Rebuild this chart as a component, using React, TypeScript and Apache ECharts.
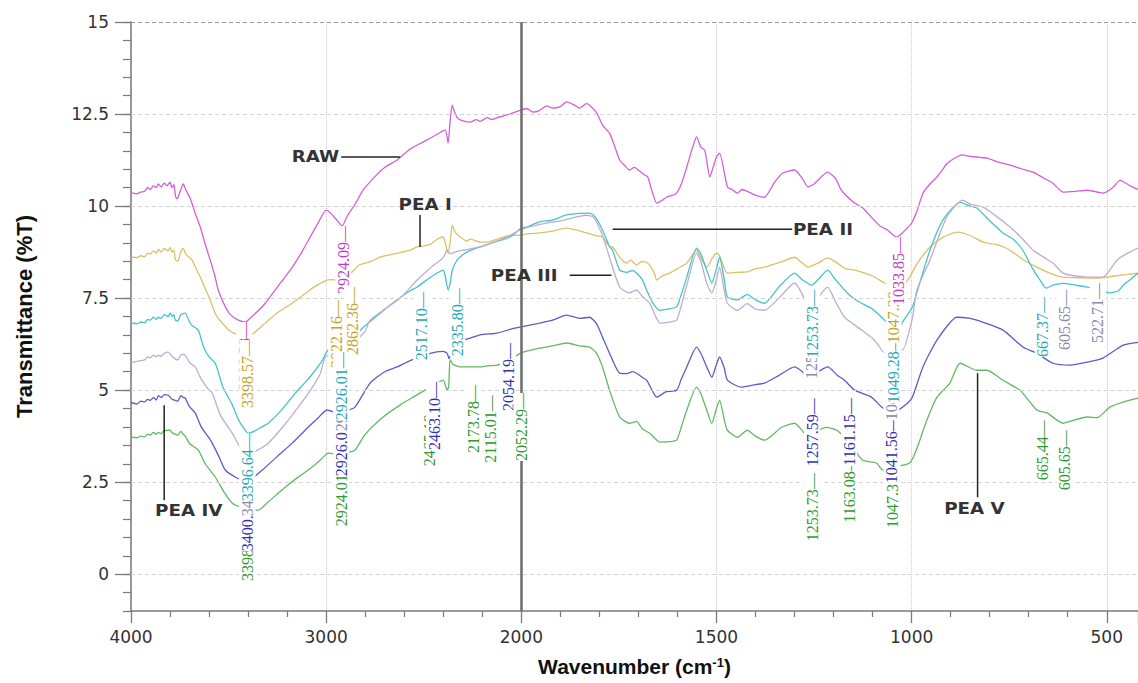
import React, { useEffect, useRef } from 'react';
import * as echarts from 'echarts';

// Wavenumber axis of the instrument: 4000-2000 compressed, 2000-400 expanded x2
const toT = (w: number) => (w >= 2000 ? 4000 - w : 2000 + (2000 - w) * 2);
const fromT = (t: number) => (t <= 2000 ? 4000 - t : 2000 - (t - 2000) / 2);

const X_MIN_W = 4000;
const X_MAX_W = 420;
const Y_MIN = -1;
const Y_MAX = 15;
const yMajorTicks = [0, 2.5, 5, 7.5, 10, 12.5, 15];

const seriesNames = ['RAW', 'PEA I', 'PEA II', 'PEA III', 'PEA IV', 'PEA V'];
const lineColors = ['#d35ed8', '#d8c267', '#45c2cc', '#bdaed0', '#5e5bc8', '#63b963'];
const labelColors = ['#c43cc4', '#c6a41c', '#1fa8b5', '#8c88a4', '#3232ae', '#2f9a2f'];

const raw: [number, number][] = [
  [4000, 10.35], [3988, 10.35], [3970, 10.33], [3952, 10.38], [3930, 10.4], [3915, 10.5], [3901, 10.45],
  [3885, 10.55], [3870, 10.5], [3860, 10.6], [3845, 10.52], [3830, 10.62], [3815, 10.55], [3800, 10.65],
  [3790, 10.5], [3780, 10.58], [3773, 10.3], [3765, 10.2], [3758, 10.25], [3745, 10.45], [3732, 10.6],
  [3720, 10.45], [3710, 10.35], [3696, 10.2], [3686, 10.05], [3671, 9.8], [3645, 9.43], [3619, 8.95],
  [3594, 8.53], [3570, 8.1], [3553, 7.72], [3520, 7.3], [3491, 7.05], [3450, 6.9], [3415, 6.85],
  [3390, 6.95], [3350, 7.15], [3312, 7.36], [3250, 7.8], [3184, 8.26], [3130, 8.7], [3082, 9.16],
  [3040, 9.55], [3000, 9.89], [2975, 9.8], [2950, 9.65], [2918, 9.46], [2890, 9.75], [2852, 10.05],
  [2811, 10.43], [2750, 10.8], [2700, 11.05], [2636, 11.25], [2570, 11.55], [2500, 11.75], [2431, 11.95],
  [2390, 12.07], [2375, 11.71], [2365, 12.3], [2354, 12.75], [2345, 12.6], [2329, 12.4], [2313, 12.34],
  [2290, 12.3], [2262, 12.28], [2230, 12.35], [2210, 12.3], [2175, 12.4], [2150, 12.35], [2124, 12.4],
  [2090, 12.45], [2058, 12.5], [2007, 12.6], [1986, 12.65], [1970, 12.55], [1953, 12.6], [1935, 12.72],
  [1920, 12.66], [1900, 12.7], [1884, 12.83], [1865, 12.75], [1851, 12.66], [1833, 12.78], [1825, 12.74],
  [1807, 12.53], [1792, 12.2], [1774, 11.98], [1760, 11.6], [1748, 11.25], [1735, 11.1], [1723, 10.98],
  [1710, 11.05], [1697, 10.95], [1685, 10.85], [1676, 10.79], [1665, 10.4], [1653, 10.08], [1640, 10.15],
  [1628, 10.24], [1610, 10.3], [1602, 10.35], [1590, 10.6], [1576, 11.06], [1561, 11.6], [1551, 11.88],
  [1540, 11.6], [1530, 11.52], [1517, 10.79], [1510, 11.0], [1500, 11.33], [1492, 11.44], [1472, 10.52],
  [1460, 10.45], [1446, 10.35], [1435, 10.45], [1421, 10.4], [1400, 10.3], [1377, 10.24], [1351, 10.65],
  [1330, 10.9], [1300, 10.98], [1280, 10.75], [1266, 10.52], [1250, 10.6], [1215, 10.92], [1195, 10.75],
  [1180, 10.43], [1146, 10.08], [1125, 9.95], [1103, 9.7], [1080, 9.45], [1062, 9.35], [1039, 9.16],
  [1026, 9.25], [1000, 9.54], [985, 9.9], [971, 10.35], [953, 10.6], [935, 10.79], [920, 11.0],
  [910, 11.15], [890, 11.3], [869, 11.39], [850, 11.35], [807, 11.3], [780, 11.2], [748, 11.11],
  [715, 11.0], [689, 10.92], [660, 10.75], [638, 10.62], [612, 10.38], [580, 10.4], [550, 10.43],
  [510, 10.35], [485, 10.5], [466, 10.7], [440, 10.55], [420, 10.45],
];

const peaI: [number, number][] = [
  [4000, 8.6], [3988, 8.61], [3970, 8.6], [3950, 8.65], [3930, 8.62], [3915, 8.72], [3901, 8.7],
  [3885, 8.78], [3870, 8.72], [3860, 8.82], [3845, 8.75], [3830, 8.85], [3810, 8.78], [3800, 8.88],
  [3790, 8.75], [3780, 8.8], [3773, 8.55], [3760, 8.5], [3745, 8.75], [3732, 8.85], [3720, 8.7],
  [3700, 8.6], [3686, 8.53], [3671, 8.35], [3645, 8.07], [3619, 7.75], [3594, 7.45], [3570, 7.1],
  [3553, 6.95], [3520, 6.75], [3491, 6.6], [3450, 6.5], [3404, 6.44], [3370, 6.55], [3312, 6.82],
  [3250, 7.1], [3174, 7.36], [3100, 7.65], [3071, 7.77], [3030, 7.9], [2995, 7.99], [2960, 8.0],
  [2938, 7.9], [2928, 7.85], [2900, 8.05], [2867, 8.21], [2830, 8.4], [2770, 8.5], [2723, 8.61],
  [2650, 8.7], [2570, 8.8], [2534, 8.89], [2470, 8.95], [2431, 9.1], [2400, 9.16], [2390, 9.0],
  [2375, 8.72], [2365, 9.0], [2354, 9.48], [2340, 9.3], [2313, 9.16], [2280, 9.05], [2262, 9.1],
  [2211, 9.02], [2175, 9.02], [2124, 9.1], [2090, 9.16], [2058, 9.2], [2007, 9.21], [1980, 9.25],
  [1953, 9.27], [1920, 9.32], [1884, 9.4], [1860, 9.35], [1833, 9.27], [1810, 9.2], [1792, 9.16],
  [1774, 8.9], [1766, 8.89], [1748, 8.61], [1730, 8.45], [1720, 8.53], [1705, 8.4], [1690, 8.5],
  [1676, 8.45], [1660, 8.2], [1653, 7.99], [1640, 8.1], [1620, 8.18], [1600, 8.3], [1576, 8.45],
  [1560, 8.7], [1551, 8.8], [1540, 8.6], [1525, 8.34], [1515, 8.5], [1510, 8.6], [1500, 8.72],
  [1492, 8.65], [1472, 8.18], [1446, 8.2], [1421, 8.21], [1400, 8.3], [1377, 8.34], [1330, 8.5],
  [1300, 8.61], [1280, 8.45], [1266, 8.34], [1240, 8.45], [1215, 8.59], [1190, 8.45], [1170, 8.3],
  [1146, 8.26], [1100, 8.1], [1069, 7.91], [1050, 7.82], [1036, 7.8], [1023, 7.82], [1005, 8.07],
  [985, 8.45], [953, 8.89], [920, 9.15], [884, 9.29], [850, 9.2], [817, 9.02], [780, 8.95],
  [748, 8.8], [715, 8.55], [679, 8.34], [640, 8.15], [612, 8.07], [560, 8.05], [525, 8.04],
  [480, 8.1], [420, 8.18],
];

const peaII: [number, number][] = [
  [4000, 6.8], [3988, 6.82], [3970, 6.8], [3950, 6.85], [3930, 6.83], [3915, 6.92], [3901, 6.9],
  [3885, 6.98], [3870, 6.92], [3860, 6.98], [3845, 6.95], [3830, 7.05], [3810, 7.0], [3799, 7.1],
  [3790, 7.0], [3780, 7.05], [3773, 6.9], [3760, 6.88], [3745, 7.05], [3732, 7.08], [3722, 7.09],
  [3700, 6.85], [3686, 6.75], [3655, 6.63], [3630, 6.2], [3600, 5.9], [3568, 5.73], [3530, 5.1],
  [3481, 4.6], [3450, 4.2], [3420, 3.95], [3399, 3.83], [3370, 3.88], [3330, 4.0], [3297, 4.1],
  [3230, 4.45], [3158, 4.92], [3100, 5.25], [3056, 5.54], [3020, 5.8], [2989, 6.09], [2950, 5.98],
  [2925, 5.95], [2900, 6.15], [2877, 6.36], [2800, 6.75], [2723, 7.09], [2650, 7.4], [2570, 7.7],
  [2534, 7.8], [2470, 8.05], [2400, 8.26], [2390, 8.1], [2375, 7.72], [2365, 7.9], [2354, 8.25],
  [2329, 8.53], [2280, 8.75], [2211, 8.89], [2150, 9.0], [2058, 9.16], [2000, 9.4], [1986, 9.43],
  [1953, 9.57], [1920, 9.62], [1884, 9.76], [1850, 9.8], [1825, 9.81], [1810, 9.7], [1792, 9.35],
  [1774, 8.9], [1766, 8.8], [1748, 8.26], [1730, 8.2], [1715, 8.25], [1705, 8.18], [1690, 8.0],
  [1679, 7.72], [1665, 7.4], [1645, 7.17], [1625, 7.2], [1602, 7.26], [1590, 7.6], [1576, 8.07],
  [1551, 8.86], [1540, 8.7], [1525, 8.26], [1512, 7.91], [1500, 8.3], [1492, 8.61], [1480, 8.0],
  [1472, 7.53], [1446, 7.45], [1421, 7.6], [1400, 7.45], [1377, 7.36], [1340, 7.8], [1300, 8.18],
  [1280, 8.0], [1256, 7.85], [1240, 8.0], [1215, 8.26], [1195, 8.0], [1172, 7.72], [1150, 7.5],
  [1128, 7.36], [1100, 7.2], [1077, 6.98], [1055, 6.75], [1039, 6.6], [1020, 6.9], [998, 7.26],
  [987, 7.64], [953, 8.8], [920, 9.62], [876, 10.1], [850, 10.0], [833, 9.95], [800, 9.6],
  [766, 9.27], [740, 9.1], [715, 8.8], [690, 8.3], [671, 7.99], [655, 7.77], [638, 7.85],
  [612, 7.9], [580, 7.85], [550, 7.8], [510, 7.7], [492, 7.64], [470, 7.7], [458, 7.85],
  [440, 8.0], [420, 8.18],
];

const peaIII: [number, number][] = [
  [4000, 5.76], [3988, 5.76], [3970, 5.78], [3950, 5.8], [3930, 5.82], [3915, 5.9], [3901, 5.88],
  [3885, 5.95], [3870, 5.9], [3860, 5.95], [3845, 5.92], [3830, 6.0], [3809, 6.03], [3790, 5.92],
  [3773, 5.85], [3760, 5.82], [3745, 5.95], [3732, 5.97], [3722, 5.95], [3700, 5.75], [3671, 5.63],
  [3640, 5.3], [3600, 5.0], [3584, 4.92], [3540, 4.3], [3481, 3.83], [3440, 3.45], [3399, 3.29],
  [3360, 3.35], [3297, 3.56], [3230, 3.95], [3143, 4.54], [3080, 5.0], [3030, 5.45], [3005, 5.9],
  [2980, 5.95], [2950, 5.75], [2925, 5.7], [2900, 5.95], [2870, 6.2], [2800, 6.6], [2775, 6.9],
  [2700, 7.2], [2620, 7.5], [2534, 7.99], [2470, 8.3], [2400, 8.6], [2380, 8.8], [2365, 8.7],
  [2340, 8.75], [2300, 8.8], [2211, 8.89], [2150, 9.0], [2058, 9.2], [2007, 9.35], [1953, 9.5],
  [1900, 9.6], [1833, 9.75], [1815, 9.7], [1792, 9.2], [1774, 8.6], [1748, 7.8], [1723, 7.64],
  [1705, 7.72], [1690, 7.55], [1671, 7.36], [1660, 7.1], [1645, 6.82], [1620, 6.85], [1602, 6.9],
  [1590, 7.3], [1576, 7.85], [1551, 8.72], [1540, 8.5], [1525, 7.9], [1512, 7.64], [1500, 8.0],
  [1492, 8.34], [1480, 7.7], [1472, 7.36], [1446, 7.17], [1421, 7.35], [1400, 7.2], [1377, 7.17],
  [1340, 7.5], [1300, 7.91], [1280, 7.6], [1266, 7.2], [1256, 7.17], [1240, 7.5], [1215, 7.8],
  [1195, 7.4], [1172, 6.98], [1150, 6.8], [1128, 6.63], [1100, 6.4], [1087, 6.25], [1069, 6.0],
  [1050, 6.02], [1030, 6.12], [1023, 6.09], [998, 6.95], [987, 7.7], [953, 8.53], [910, 9.7],
  [869, 10.16], [850, 10.05], [817, 9.97], [780, 9.7], [748, 9.43], [715, 9.1], [689, 8.8],
  [660, 8.6], [638, 8.45], [612, 8.18], [580, 8.1], [550, 8.07], [510, 8.07], [474, 8.53],
  [450, 8.7], [420, 8.86],
];

const peaIV: [number, number][] = [
  [4000, 4.65], [3988, 4.65], [3970, 4.62], [3950, 4.7], [3930, 4.68], [3915, 4.75], [3901, 4.72],
  [3885, 4.8], [3870, 4.73], [3860, 4.85], [3845, 4.8], [3830, 4.88], [3809, 4.86], [3790, 4.75],
  [3773, 4.72], [3760, 4.7], [3745, 4.85], [3732, 4.8], [3722, 4.78], [3700, 4.55], [3671, 4.38],
  [3640, 4.0], [3600, 3.7], [3584, 3.56], [3550, 3.2], [3517, 2.83], [3466, 2.64], [3420, 2.55],
  [3380, 2.6], [3327, 2.83], [3250, 3.2], [3174, 3.56], [3100, 3.95], [3050, 4.2], [2995, 4.46],
  [2960, 4.4], [2925, 4.35], [2890, 4.45], [2852, 4.54], [2775, 5.19], [2700, 5.5], [2636, 5.63],
  [2570, 5.8], [2467, 6.0], [2400, 6.05], [2380, 6.0], [2370, 5.85], [2360, 6.1], [2340, 6.3],
  [2262, 6.41], [2211, 6.5], [2124, 6.55], [2058, 6.65], [2007, 6.71], [1953, 6.82], [1920, 6.9],
  [1884, 7.04], [1850, 6.95], [1825, 6.98], [1807, 6.8], [1792, 6.44], [1774, 6.0], [1748, 5.46],
  [1730, 5.45], [1715, 5.5], [1705, 5.46], [1690, 5.35], [1679, 5.27], [1665, 5.0], [1653, 4.81],
  [1630, 4.95], [1602, 5.0], [1590, 5.3], [1576, 5.63], [1551, 6.17], [1540, 6.0], [1525, 5.63],
  [1512, 5.35], [1500, 5.7], [1492, 5.9], [1480, 5.6], [1472, 5.27], [1436, 5.08], [1400, 5.15],
  [1377, 5.19], [1340, 5.4], [1300, 5.63], [1280, 5.5], [1266, 5.35], [1240, 5.5], [1215, 5.63],
  [1190, 5.4], [1172, 5.27], [1146, 5.0], [1103, 4.81], [1077, 4.54], [1055, 4.4], [1036, 4.45],
  [1010, 4.65], [998, 4.81], [971, 5.63], [935, 6.36], [884, 6.98], [850, 6.95], [833, 6.9],
  [766, 6.63], [715, 6.17], [679, 6.0], [638, 5.73], [594, 5.68], [550, 5.76], [510, 5.87],
  [458, 6.22], [420, 6.3],
];

const peaV: [number, number][] = [
  [4000, 3.72], [3988, 3.72], [3970, 3.7], [3950, 3.75], [3930, 3.73], [3915, 3.8], [3901, 3.78],
  [3885, 3.85], [3870, 3.8], [3860, 3.85], [3845, 3.82], [3830, 3.9], [3799, 3.91], [3790, 3.85],
  [3773, 3.8], [3760, 3.78], [3745, 3.88], [3732, 3.8], [3722, 3.75], [3700, 3.55], [3655, 3.37],
  [3620, 3.0], [3568, 2.64], [3520, 2.2], [3481, 1.93], [3420, 1.78], [3348, 1.74], [3300, 1.95],
  [3210, 2.36], [3140, 2.65], [3071, 2.91], [3030, 3.1], [2989, 3.29], [2950, 3.25], [2925, 3.2],
  [2890, 3.3], [2852, 3.37], [2800, 3.8], [2708, 4.27], [2620, 4.6], [2554, 4.81], [2431, 5.19],
  [2400, 5.27], [2380, 5.0], [2372, 5.1], [2365, 5.82], [2350, 5.7], [2313, 5.63], [2262, 5.63],
  [2211, 5.63], [2175, 5.66], [2124, 5.68], [2058, 5.8], [2007, 6.0], [1953, 6.14], [1920, 6.2],
  [1884, 6.28], [1850, 6.2], [1825, 6.17], [1807, 6.0], [1792, 5.63], [1774, 5.0], [1748, 4.27],
  [1723, 4.1], [1705, 4.15], [1690, 3.95], [1671, 3.83], [1645, 3.59], [1620, 3.6], [1602, 3.64],
  [1590, 4.0], [1576, 4.46], [1551, 5.08], [1540, 4.9], [1525, 4.46], [1512, 4.1], [1500, 4.5],
  [1492, 4.73], [1480, 4.2], [1472, 3.91], [1446, 3.72], [1421, 3.91], [1400, 3.75], [1377, 3.64],
  [1333, 3.99], [1300, 4.1], [1280, 3.9], [1266, 3.72], [1240, 3.9], [1218, 3.99], [1192, 3.91],
  [1160, 3.6], [1126, 3.1], [1090, 3.02], [1074, 2.83], [1050, 2.9], [1005, 3.02], [987, 3.4],
  [961, 4.18], [935, 4.81], [902, 5.19], [876, 5.73], [833, 5.54], [807, 5.54], [766, 5.27],
  [722, 5.0], [715, 4.92], [679, 4.46], [653, 4.38], [612, 4.1], [594, 4.15], [550, 4.27],
  [525, 4.25], [492, 4.54], [440, 4.73], [420, 4.78],
];

const seriesData = [raw, peaI, peaII, peaIII, peaIV, peaV];

// Peak labels: [text, wavenumber, value at upper end, series index] (drawn in this order)
const peakLabels: [string, number, number, number][] = [
  ['3398.58', 3420, 6.85, 0],
  ['3398.57', 3404, 6.36, 1],
  ['3398.57', 3404, 1.66, 5],
  ['3400.42', 3404, 2.47, 4],
  ['3400.42', 3404, 3.42, 3],
  ['3396.64', 3404, 3.83, 2],
  ['2924.09', 2913, 9.46, 0],
  ['2922.16', 2949, 7.45, 1],
  ['2862.36', 2867, 7.8, 1],
  ['2924.01', 2923, 3.15, 5],
  ['2926.01', 2923, 4.51, 4],
  ['2926.01', 2923, 5.73, 3],
  ['2926.01', 2923, 6.03, 2],
  ['2517.10', 2513, 7.66, 2],
  ['2335.80', 2329, 7.77, 2],
  ['2465.19', 2472, 4.78, 5],
  ['2463.10', 2447, 5.22, 4],
  ['2173.78', 2247, 5.14, 5],
  ['2115.01', 2160, 4.86, 5],
  ['2054.19', 2068, 6.28, 4],
  ['2052.29', 2000, 4.92, 5],
  ['1047.35', 1049, 3.1, 5],
  ['1041.56', 1052, 4.32, 4],
  ['1043.00', 1052, 6.03, 3],
  ['1049.28', 1046, 6.49, 2],
  ['1047.28', 1046, 8.12, 1],
  ['1033.85', 1034, 9.16, 0],
  ['1251.42', 1257, 7.15, 3],
  ['1253.73', 1255, 7.72, 2],
  ['1253.73', 1255, 2.74, 5],
  ['1257.59', 1255, 4.78, 4],
  ['1163.08', 1160, 3.23, 5],
  ['1161.15', 1160, 4.78, 4],
  ['667.37', 664, 7.53, 2],
  ['605.65', 608, 7.72, 3],
  ['522.71', 523, 7.91, 3],
  ['665.44', 664, 4.18, 5],
  ['605.65', 608, 3.91, 5],
];

// Sample names: [text, wavenumber, value, anchor]
const sampleTags: [string, number, number, string][] = [
  ['RAW', 2933, 11.33, 'right'],
  ['PEA I', 2493, 10.03, 'center'],
  ['PEA II', 1304, 9.35, 'left'],
  ['PEA III', 1907, 8.12, 'right'],
  ['PEA IV', 3704, 1.74, 'center'],
  ['PEA V', 839, 1.79, 'center'],
];
// Leader lines: [w1, v1, w2, v2]
const tagLeaders: [number, number, number, number][] = [
  [2923, 11.33, 2621, 11.33],
  [2519, 9.76, 2519, 8.89],
  [1766, 9.37, 1306, 9.37],
  [1876, 8.12, 1769, 8.12],
  [3830, 4.59, 3830, 2.01],
  [831, 5.46, 831, 2.09],
];

export default function App() {
  const ref = useRef<HTMLDivElement>(null);
  useEffect(() => {
    if (!ref.current) return;
    const chart = echarts.init(ref.current, null, { renderer: 'svg' });
    const gridMarks = yMajorTicks.map((v) => ({
      yAxis: v,
      lineStyle: {
        color: v === 15 ? '#9a9a9a' : '#d4d4d4',
        type: [4, 3],
        width: v === 15 ? 1.2 : 1,
      },
    }));
    const option: any = {
      animation: false,
      backgroundColor: '#ffffff',
      grid: { left: 131, top: 22, right: 0, bottom: 72, containLabel: false, outerBoundsMode: 'none' },
      xAxis: {
        type: 'value',
        min: toT(X_MIN_W),
        max: toT(X_MAX_W),
        interval: 1000,
        axisLine: { show: true, onZero: false, lineStyle: { color: '#7a7a7a', width: 1.5 } },
        axisTick: { show: true, length: 12, lineStyle: { color: '#7a7a7a', width: 1.3 } },
        minorTick: { show: true, splitNumber: 5, length: 6, lineStyle: { color: '#7a7a7a', width: 1.2 } },
        axisLabel: {
          margin: 17,
          fontSize: 17,
          fontFamily: 'DejaVu Sans',
          color: '#333',
          showMaxLabel: false,
          formatter: (t: number) => (Math.abs(t % 1000) < 1e-6 ? String(fromT(t)) : ''),
        },
        splitLine: { show: true, lineStyle: { color: '#cfcfcf', type: 'dotted', width: 1 } },
        minorSplitLine: { show: false },
        name: 'Wavenumber (cm{sup|-1})',
        nameLocation: 'middle',
        nameGap: 45,
        nameTextStyle: {
          fontFamily: 'Liberation Sans',
          fontWeight: 'bold',
          fontSize: 21,
          color: '#111',
          rich: {
            sup: { fontFamily: 'Liberation Sans', fontWeight: 'bold', fontSize: 13, verticalAlign: 'top', color: '#111' },
          },
        },
      },
      yAxis: [
        {
          type: 'value',
          min: Y_MIN,
          max: Y_MAX,
          interval: 0.5,
          axisLine: { show: true, onZero: false, lineStyle: { color: '#7a7a7a', width: 1.5 } },
          axisTick: { show: true, length: 8, lineStyle: { color: '#7a7a7a', width: 1.2 } },
          axisLabel: {
            margin: 22,
            fontSize: 17,
            fontFamily: 'DejaVu Sans',
            color: '#333',
            formatter: (v: number) => {
              const k = v / 2.5;
              return Math.abs(k - Math.round(k)) < 1e-6 && v >= 0 ? String(v) : '';
            },
          },
          splitLine: { show: false },
          name: 'Transmittance (%T)',
          nameLocation: 'middle',
          nameGap: 96,
          nameTextStyle: { fontFamily: 'Liberation Sans', fontWeight: 'bold', fontSize: 22, color: '#111' },
        },
        {
          type: 'value',
          min: Y_MIN,
          max: Y_MAX,
          position: 'left',
          axisLine: { show: false },
          axisTick: { show: true, length: 16, customValues: yMajorTicks, lineStyle: { color: '#7a7a7a', width: 1.3 } },
          axisLabel: { show: false },
          splitLine: { show: false },
        },
      ],
      series: [
        {
          type: 'line',
          name: 'grid',
          data: [],
          z: 1,
          silent: true,
          markLine: {
            silent: true,
            symbol: ['none', 'none'],
            label: { show: false },
            data: [
              ...gridMarks,
              { xAxis: toT(2000), lineStyle: { color: '#707070', type: 'solid', width: 2.6 } },
            ],
          },
        },
        ...seriesData.map((d, i) => ({
          type: 'line',
          name: seriesNames[i],
          data: d.map(([w, v]) => [toT(w), v]),
          showSymbol: false,
          symbol: 'none',
          smooth: 0.2,
          z: 3,
          lineStyle: { color: lineColors[i], width: 1.3 },
        })),
      ],
    };
    chart.setOption(option);

    const px = (w: number, v: number) =>
      chart.convertToPixel({ xAxisIndex: 0, yAxisIndex: 0 }, [toT(w), v]) as number[];

    const elements: any[] = [];
    peakLabels.forEach(([text, w, v, s], i) => {
      const p = px(w, v);
      elements.push({
        type: 'text',
        x: p[0],
        y: p[1],
        rotation: Math.PI / 2,
        z: 20,
        z2: i,
        silent: true,
        style: {
          text: text + '—',
          fill: labelColors[s],
          fontFamily: 'Liberation Serif',
          fontSize: 16,
          align: 'right',
          verticalAlign: 'middle',
          backgroundColor: '#ffffff',
        },
      });
    });
    tagLeaders.forEach(([w1, v1, w2, v2]) => {
      const a = px(w1, v1);
      const b = px(w2, v2);
      elements.push({
        type: 'line',
        z: 21,
        silent: true,
        shape: { x1: a[0], y1: a[1], x2: b[0], y2: b[1] },
        style: { stroke: '#222', lineWidth: 1.5 },
      });
    });
    sampleTags.forEach(([text, w, v, anchor]) => {
      const p = px(w, v);
      elements.push({
        type: 'text',
        x: p[0],
        y: p[1],
        scaleX: 1.22,
        z: 22,
        silent: true,
        style: {
          text,
          fill: '#333',
          fontFamily: 'DejaVu Sans',
          fontWeight: 'bold',
          fontSize: 15,
          align: anchor,
          verticalAlign: 'middle',
        },
      });
    });
    chart.setOption({ graphic: { elements } });

    return () => chart.dispose();
  }, []);

  return (
    <div
      ref={ref}
      style={{ position: 'fixed', left: 0, top: 0, width: 1138, height: 683, background: '#fff' }}
    />
  );
}
